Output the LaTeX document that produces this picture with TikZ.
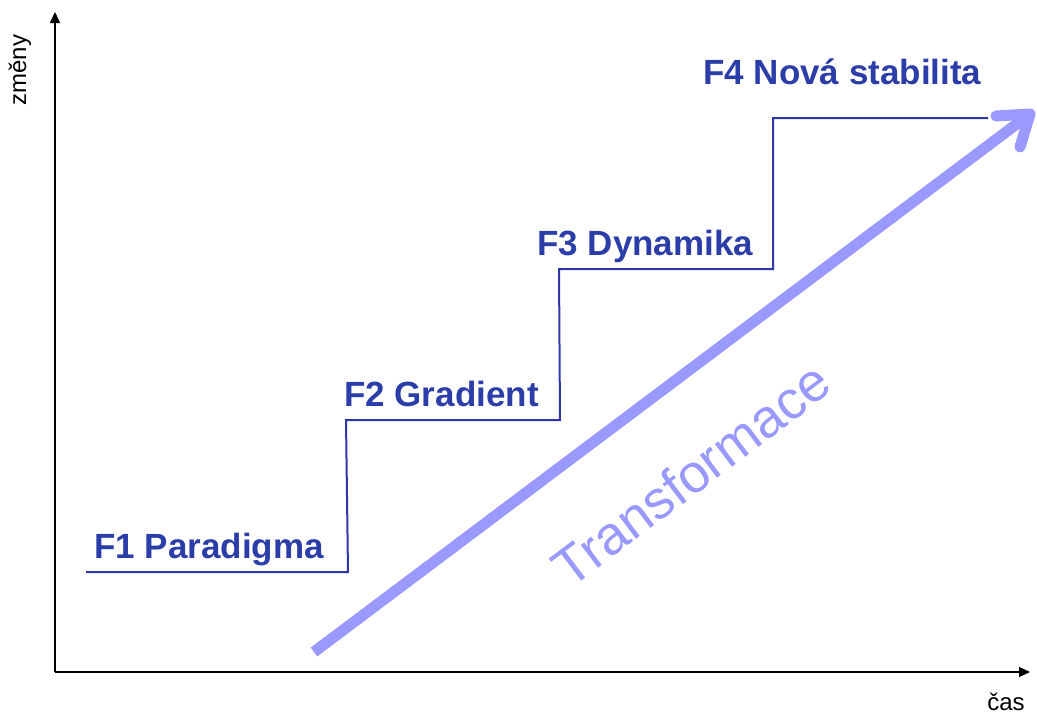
\documentclass[tikz,border=0pt]{standalone}
\usepackage{fontspec}
\setmainfont{Liberation Sans}
\usetikzlibrary{arrows.meta}
\definecolor{phase}{HTML}{2B3DA8}
\definecolor{stairblue}{HTML}{3036AA}
\definecolor{trans}{HTML}{9999FF}
\begin{document}
\begin{tikzpicture}[x=1pt,y=-1pt,
  axis/.style={line width=1.5pt,-{Triangle[length=11pt,width=10pt]}},
  axislabel/.style={inner sep=0pt,font=\fontsize{24}{28}\selectfont},
  phaselabel/.style={anchor=base west,inner sep=0pt,text=phase,
    font=\fontsize{35}{40}\selectfont\bfseries},
  stairs/.style={draw=stairblue,line width=2pt,line join=miter},
  bigarrow/.style={draw=trans,line width=11pt},
  translabel/.style={inner sep=0pt,text=trans,rotate=37,
    font=\fontsize{54}{60}\selectfont}]
\useasboundingbox (0,0) rectangle (1037,715);

% axes
\coordinate (O) at (55,672);
\coordinate (ytop) at (55,12);
\coordinate (xend) at (1030,672);
\draw[axis] (O) -- (ytop);
\draw[axis] (O) -- (xend);
\node[axislabel,rotate=90] (ylab) at (20,70) {změny};
\node[axislabel] (xlab) at (1006,702) {čas};

% staircase of phases
\coordinate (s0) at (86,572);
\coordinate (s1) at (348,572);
\coordinate (s2) at (346,420);
\coordinate (s3) at (560,420);
\coordinate (s4) at (559,269);
\coordinate (s5) at (773,269);
\coordinate (s6) at (773,118);
\coordinate (s7) at (988,118);
\draw[stairs] (s0) -- (s1) -- (s2) -- (s3) -- (s4) -- (s5) -- (s6) -- (s7);

\node[phaselabel] (f1) at (94,558) {F1 Paradigma};
\node[phaselabel] (f2) at (344,406) {F2 Gradient};
\node[phaselabel] (f3) at (537,255) {F3 Dynamika};
\node[phaselabel] (f4) at (703,84) {F4 Nová stabilita};

% transformation arrow
\coordinate (tail) at (314,652);
\coordinate (tip) at (1030,114);
\coordinate (armA) at (996,116);
\coordinate (armB) at (1020,147);
\draw[bigarrow] (tail) -- (tip);
\draw[bigarrow,line cap=round,line join=round] (armA) -- (tip) -- (armB);
\node[translabel] (tr) at (691,474) {Transformace};
\end{tikzpicture}
\end{document}
